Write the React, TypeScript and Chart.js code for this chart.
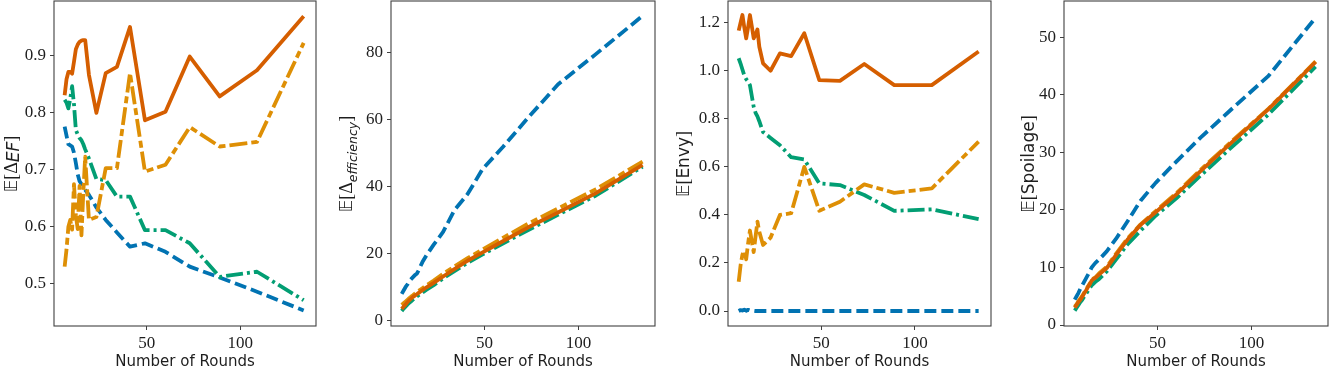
import React, { useEffect, useRef } from 'react';
import { Chart, registerables } from 'chart.js';

Chart.register(...registerables);

// ---------- data ----------
const ROUNDS = [6, 7, 8, 9, 10, 11, 12, 13, 14, 15, 16, 17, 19, 23, 28, 34, 41, 49, 60, 73, 89, 109, 134];
const X_TICKS = [50, 100];

// Panel 1: E[Δ_EF]
const EF_BLUE = [0.776, 0.760, 0.745, 0.743, 0.741, 0.730, 0.712, 0.692, 0.680, 0.675, 0.670, 0.665, 0.656, 0.634, 0.612, 0.590, 0.565, 0.571, 0.556, 0.530, 0.511, 0.486, 0.453];
const EF_ORANGE = [0.530, 0.560, 0.600, 0.612, 0.595, 0.675, 0.620, 0.596, 0.672, 0.585, 0.660, 0.723, 0.612, 0.617, 0.703, 0.703, 0.870, 0.697, 0.709, 0.775, 0.741, 0.749, 0.923];
const EF_GREEN = [0.823, 0.818, 0.808, 0.825, 0.847, 0.815, 0.770, 0.762, 0.756, 0.752, 0.745, 0.736, 0.720, 0.684, 0.682, 0.653, 0.653, 0.594, 0.594, 0.571, 0.512, 0.521, 0.471];
const EF_RED = [0.831, 0.859, 0.872, 0.872, 0.869, 0.890, 0.912, 0.920, 0.925, 0.927, 0.928, 0.928, 0.867, 0.800, 0.870, 0.881, 0.951, 0.787, 0.802, 0.899, 0.829, 0.875, 0.970];
const EF_TICKS = [0.5, 0.6, 0.7, 0.8, 0.9];

// Panel 2: E[Δ_efficiency]
const EFF_BLUE = [8.0, 9.0, 10.0, 10.8, 11.8, 12.4, 13.0, 13.6, 14.0, 15.0, 16.3, 17.5, 19.4, 22.7, 26.5, 33.0, 37.8, 45.3, 52.0, 60.5, 70.5, 79.5, 91.0];
const EFF_ORANGE = [4.7, 5.2, 5.7, 6.2, 6.7, 7.2, 7.6, 8.1, 8.5, 8.9, 9.3, 9.7, 10.5, 12.0, 14.0, 16.2, 18.7, 21.3, 24.8, 28.9, 33.5, 39.2, 47.5];
const EFF_GREEN = [2.9, 3.6, 4.2, 4.8, 5.3, 5.8, 6.3, 6.8, 7.2, 7.6, 8.0, 8.4, 9.2, 10.6, 12.6, 14.8, 17.3, 19.8, 23.1, 27.0, 31.6, 37.3, 46.0];
const EFF_RED = [3.5, 4.2, 4.8, 5.5, 6.1, 6.6, 7.1, 7.5, 7.9, 8.3, 8.7, 9.1, 9.9, 11.3, 13.2, 15.4, 17.9, 20.4, 23.8, 27.8, 32.3, 38.0, 46.5];
const EFF_TICKS = [0, 20, 40, 60, 80];

// Panel 3: E[Envy]
const ENVY_BLUE = [0, 0.004, 0.002, 0.006, 0.001, 0.005, 0.002, 0.003, 0.001, 0, 0, 0, 0, 0, 0, 0, 0, 0, 0, 0, 0, 0, 0];
const ENVY_ORANGE = [0.122, 0.190, 0.235, 0.250, 0.215, 0.280, 0.335, 0.290, 0.245, 0.310, 0.372, 0.330, 0.275, 0.305, 0.400, 0.407, 0.600, 0.417, 0.455, 0.527, 0.492, 0.510, 0.705];
const ENVY_GREEN = [1.052, 1.030, 1.005, 0.980, 0.965, 0.955, 0.940, 0.895, 0.850, 0.825, 0.810, 0.790, 0.745, 0.720, 0.690, 0.640, 0.631, 0.531, 0.524, 0.483, 0.417, 0.423, 0.382];
const ENVY_RED = [1.167, 1.200, 1.232, 1.180, 1.135, 1.180, 1.232, 1.185, 1.135, 1.150, 1.172, 1.100, 1.031, 1.000, 1.072, 1.061, 1.156, 0.961, 0.958, 1.028, 0.940, 0.940, 1.080];
const ENVY_TICKS = [0, 0.2, 0.4, 0.6, 0.8, 1.0, 1.2];

// Panel 4: E[Spoilage]
const SPOIL_BLUE = [4.4, 5.0, 5.6, 6.3, 6.9, 7.5, 8.1, 8.7, 9.3, 10.0, 10.4, 10.8, 11.4, 12.8, 15.0, 18.0, 21.6, 24.7, 28.4, 32.6, 37.4, 43.3, 53.4];
const SPOIL_ORANGE = [3.2, 3.6, 4.2, 4.6, 5.1, 5.6, 6.2, 6.7, 7.2, 7.8, 8.1, 8.3, 9.0, 10.1, 12.4, 15.0, 17.5, 19.8, 22.9, 27.0, 31.8, 37.6, 45.8];
const SPOIL_GREEN = [2.5, 3.0, 3.5, 4.0, 4.4, 4.9, 5.4, 5.9, 6.4, 6.9, 7.2, 7.5, 8.0, 9.3, 11.4, 14.0, 16.4, 19.0, 22.0, 26.0, 30.8, 36.6, 44.9];
const SPOIL_RED = [3.0, 3.5, 4.0, 4.4, 4.9, 5.5, 6.0, 6.6, 7.1, 7.7, 8.0, 8.2, 8.8, 9.9, 12.2, 14.8, 17.4, 19.6, 22.7, 26.8, 31.6, 37.5, 45.7];
const SPOIL_TICKS = [0, 10, 20, 30, 40, 50];

const X_TITLE = 'Number of Rounds';

// ---------- styles ----------
const BLUE = '#0173b2';
const ORANGE = '#de8f05';
const GREEN = '#029e73';
const RED = '#d55e00';
const SPINE = '#404040';
const TEXT = '#1e1e1e';
const TICK_FONT = { family: "'Liberation Serif', serif", size: 17 };
const SERIF = "18px 'Liberation Serif', 'DejaVu Serif', serif";
const BB = "17px 'DejaVu Sans', 'DejaVu Serif', sans-serif";
const SANS = "17px 'DejaVu Sans', sans-serif";
const SUB_BIG = "italic 17px 'DejaVu Sans', sans-serif";
const SUB_SMALL = "italic 12.5px 'DejaVu Sans', sans-serif";
const X_TITLE_FONT = "15px 'DejaVu Sans', sans-serif";
const H = 371;
const AXIS_W = 54;
const BOX_TOP = 1;
const BOX_BOTTOM = 326;
const X_MIN = 0.3;
const X_MAX = 140.6;

type Seg = { text: string; font: string; dy: number };

const framePlugin = {
  id: 'frame',
  afterDatasetsDraw(chart: any) {
    const { ctx, chartArea: a } = chart;
    ctx.save();
    ctx.strokeStyle = SPINE;
    ctx.lineWidth = 1.1;
    ctx.strokeRect(a.left, a.top, a.right - a.left, a.bottom - a.top);
    ctx.restore();
  },
  afterDraw(chart: any, _args: any, opts: any) {
    const { ctx, chartArea: a } = chart;
    ctx.save();
    ctx.fillStyle = TEXT;
    ctx.font = X_TITLE_FONT;
    ctx.textAlign = 'center';
    ctx.textBaseline = 'alphabetic';
    ctx.fillText(X_TITLE, (a.left + a.right) / 2, opts.xTitleY);

    const segs: Seg[] = opts.segs;
    let total = 0;
    const widths = segs.map((s) => {
      ctx.font = s.font;
      const w = ctx.measureText(s.text).width;
      total += w;
      return w;
    });
    ctx.translate(a.left - opts.yOff, opts.yCenter);
    ctx.rotate(-Math.PI / 2);
    ctx.textAlign = 'left';
    let x = -total / 2;
    segs.forEach((s, i) => {
      ctx.font = s.font;
      ctx.fillText(s.text, x, s.dy);
      x += widths[i];
    });
    ctx.restore();
  },
};

function series(values: number[], color: string, dash: number[], order: number) {
  return {
    data: values.map((v, i) => ({ x: ROUNDS[i], y: v })),
    borderColor: color,
    backgroundColor: color,
    borderWidth: 3.8,
    borderDash: dash,
    borderCapStyle: 'butt',
    borderJoinStyle: 'round',
    pointRadius: 0,
    tension: 0,
    fill: false,
    order,
  };
}

type PanelDef = {
  left: number;
  right: number;
  blue: number[];
  orange: number[];
  green: number[];
  red: number[];
  yMin: number;
  yMax: number;
  yTicks: number[];
  decimals: number;
  segs: Seg[];
  yOff: number;
};

const PANELS: PanelDef[] = [
  {
    left: 54, right: 316,
    blue: EF_BLUE, orange: EF_ORANGE, green: EF_GREEN, red: EF_RED,
    yMin: 0.4257, yMax: 0.9966, yTicks: EF_TICKS, decimals: 1,
    segs: [
      { text: '𝔼', font: BB, dy: 0 },
      { text: '[', font: SERIF, dy: 0 },
      { text: 'Δ', font: SERIF, dy: 0 },
      { text: 'EF', font: SUB_BIG, dy: 2 },
      { text: ']', font: SERIF, dy: 0 },
    ],
    yOff: 37,
  },
  {
    left: 391, right: 655,
    blue: EFF_BLUE, orange: EFF_ORANGE, green: EFF_GREEN, red: EFF_RED,
    yMin: -1.58, yMax: 95.43, yTicks: EFF_TICKS, decimals: 0,
    segs: [
      { text: '𝔼', font: BB, dy: 0 },
      { text: '[', font: SERIF, dy: 0 },
      { text: 'Δ', font: SERIF, dy: 0 },
      { text: 'efficiency', font: SUB_SMALL, dy: 5 },
      { text: ']', font: SERIF, dy: 0 },
    ],
    yOff: 39,
  },
  {
    left: 728, right: 991,
    blue: ENVY_BLUE, orange: ENVY_ORANGE, green: ENVY_GREEN, red: ENVY_RED,
    yMin: -0.0624, yMax: 1.2903, yTicks: ENVY_TICKS, decimals: 1,
    segs: [
      { text: '𝔼', font: BB, dy: 0 },
      { text: '[', font: SERIF, dy: 0 },
      { text: 'Envy', font: SANS, dy: 0 },
      { text: ']', font: SERIF, dy: 0 },
    ],
    yOff: 39,
  },
  {
    left: 1064, right: 1328,
    blue: SPOIL_BLUE, orange: SPOIL_ORANGE, green: SPOIL_GREEN, red: SPOIL_RED,
    yMin: -0.17, yMax: 56.3, yTicks: SPOIL_TICKS, decimals: 0,
    segs: [
      { text: '𝔼', font: BB, dy: 0 },
      { text: '[', font: SERIF, dy: 0 },
      { text: 'Spoilage', font: SANS, dy: 0 },
      { text: ']', font: SERIF, dy: 0 },
    ],
    yOff: 30,
  },
];

function Panel({ def }: { def: PanelDef }) {
  const ref = useRef<HTMLCanvasElement>(null);
  const canvasLeft = def.left - AXIS_W;
  const width = Math.min(1329 - canvasLeft, def.right - canvasLeft + 2);
  const padRight = width - (def.right - canvasLeft);

  useEffect(() => {
    const chart = new Chart(ref.current as HTMLCanvasElement, {
      type: 'line',
      data: {
        datasets: [
          series(def.blue, BLUE, [12, 5], 3),
          series(def.green, GREEN, [17, 4, 3, 4], 2),
          series(def.orange, ORANGE, [18, 4, 7, 4], 1),
          series(def.red, RED, [], 0),
        ] as any,
      },
      options: {
        animation: false,
        responsive: false,
        devicePixelRatio: 1,
        layout: { padding: { top: BOX_TOP, right: padRight, left: 0, bottom: 0 } },
        plugins: {
          legend: { display: false },
          tooltip: { enabled: false },
          frame: { segs: def.segs, yOff: def.yOff, yCenter: 164, xTitleY: 365.5 },
        } as any,
        scales: {
          x: {
            type: 'linear',
            min: X_MIN,
            max: X_MAX,
            afterFit: (s: any) => {
              s.height = H - BOX_BOTTOM;
              s.paddingLeft = 0;
              s.paddingRight = 0;
            },
            afterBuildTicks: (s: any) => { s.ticks = X_TICKS.map((v) => ({ value: v })); },
            ticks: { font: TICK_FONT, color: TEXT, padding: 3, maxRotation: 0, autoSkip: false },
            grid: { drawOnChartArea: false, drawTicks: true, tickLength: 4, color: SPINE, lineWidth: 1 },
            border: { display: false },
          },
          y: {
            type: 'linear',
            min: def.yMin,
            max: def.yMax,
            afterFit: (s: any) => {
              s.width = AXIS_W;
              s.paddingTop = 0;
              s.paddingBottom = 0;
            },
            afterBuildTicks: (s: any) => { s.ticks = def.yTicks.map((v) => ({ value: v })); },
            ticks: {
              font: TICK_FONT,
              color: TEXT,
              padding: 4,
              autoSkip: false,
              callback: (v: any) => Number(v).toFixed(def.decimals),
            },
            grid: { drawOnChartArea: false, drawTicks: true, tickLength: 4, color: SPINE, lineWidth: 1 },
            border: { display: false },
          },
        },
      },
      plugins: [framePlugin as any],
    });
    return () => chart.destroy();
  }, []);

  return (
    <canvas
      ref={ref}
      width={width}
      height={H}
      style={{ position: 'absolute', left: canvasLeft, top: 0, width, height: H }}
    />
  );
}

export default function App() {
  return (
    <div style={{ position: 'absolute', left: 0, top: 0, width: 1329, height: H, background: '#fff', overflow: 'hidden' }}>
      {PANELS.map((p, i) => (
        <Panel key={i} def={p} />
      ))}
    </div>
  );
}
